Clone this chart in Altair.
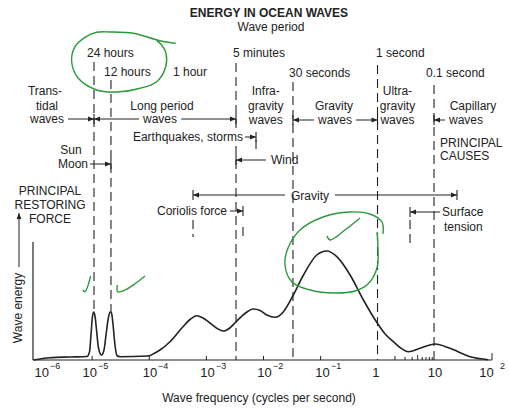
import altair as alt
import pandas as pd

INK = "#222222"
GREEN = "#2a9a3c"
FONT = "Liberation Sans"

# ---------------- data: wave-energy spectrum (log10 of frequency in Hz, relative energy) -------------
curve_lf = [-6.03, -5.74, -5.39, -5.09, -5.046, -5.02, -4.997, -4.976, -4.95, -4.923, -4.888, -4.836,
            -4.792, -4.757, -4.722, -4.687, -4.661, -4.635, -4.60, -4.565, -4.512, -4.022, -3.90, -3.812,
            -3.637, -3.41, -3.287, -3.17, -3.06, -2.937, -2.81, -2.70, -2.59, -2.48, -2.325, -2.18, -2.06,
            -1.94, -1.797, -1.65, -1.478, -1.30, -1.067, -0.892, -0.717, -0.484, -0.251, -0.006, 0.129,
            0.274, 0.39, 0.535, 0.74, 1.002, 1.265, 1.615, 1.935]
curve_e = [0, 2.3, 3, 3.5, 8, 25, 42, 48, 44, 30, 12, 5,
           10, 25, 40, 48, 47, 36, 15, 4.5, 3.3, 4, 7, 10,
           18.3, 33.3, 40.5, 44.3, 42, 37, 31.5, 29, 32, 38.3, 46.5, 51, 49.5,
           45, 42.7, 48.3, 65, 85, 105, 109, 103.3, 85, 60, 36.7, 26,
           18.3, 12.5, 8.3, 11.7, 16, 11.7, 3.3, 0.3]
assert len(curve_lf) == len(curve_e)

# ---------------- axis tick labels ----------------
tick_label_lf = [-5.883, -5.042, -3.987, -2.980, -1.982, -0.967, -0.031, 1.002, 1.904]
tick_label_txt = ["10", "10", "10", "10", "10", "10", "1", "10", "10"]
exp_lf = [-5.737, -4.897, -3.847, -2.832, -1.834, -0.818, 2.141]
exp_txt = ["\u22126", "\u22125", "\u22124", "\u22123", "\u22122", "\u22121", "2"]
major_ticks = [-5, -4, -3, -2, -1]
minor_ticks = [0.301, 0.477, 0.602, 0.699, 0.778, 0.845, 0.903, 0.954]

# ---------------- annotation texts (text, log10 f, level) ----------------
title_rows = [("ENERGY IN OCEAN WAVES", -1.904, 347)]
center_rows = [
    ("Wave period", -1.869, 333),
    ("Trans-", -5.825, 269), ("tidal", -5.790, 254), ("waves", -5.790, 241),
    ("Long period", -3.777, 254), ("waves", -3.812, 241),
    ("Infra-", -1.960, 269), ("gravity", -1.960, 254), ("waves", -1.960, 240),
    ("Gravity", -0.766, 254), ("waves", -0.748, 240),
    ("Ultra-", 0.345, 269), ("gravity", 0.345, 254), ("waves", 0.345, 240),
    ("Capillary", 1.667, 254), ("waves", 1.545, 240),
    ("Sun", -5.370, 210),
    ("Gravity", -1.186, 164),
    ("Wave frequency (cycles per second)", -2.079, -38),
]
left_rows = [
    ("24 hours", -5.090, 307), ("12 hours", -4.792, 288), ("1 hour", -3.584, 288),
    ("5 minutes", -2.534, 307), ("30 seconds", -1.554, 287), ("1 second", -0.031, 307),
    ("0.1 second", 0.845, 287), ("Wind", -1.869, 200), ("Surface", 1.125, 148), ("tension", 1.160, 133),
]
right_rows = [("Earthquakes, storms", -2.359, 223), ("Moon", -5.072, 196), ("Coriolis force", -2.639, 149)]
caps_center_rows = [("PRINCIPAL", -5.737, 169), ("RESTORING", -5.737, 155), ("FORCE", -5.737, 141)]
caps_left_rows = [("PRINCIPAL", 1.090, 217), ("CAUSES", 1.090, 204)]
ylabel_rows = [("Wave energy", -6.298, 52)]

# ---------------- dashed period lines (log10 f, top level, bottom level) ----------------
dashed = [(-4.967, 298, 48), (-4.670, 280, 48), (-2.481, 297, 232), (-2.481, 214, 0),
          (-1.484, 278, 0), (-0.004, 295, 0), (0.985, 275, 0), (-2.131, 220, 210),
          (-3.234, 140, 123), (-2.359, 133, 123), (0.565, 140, 117)]

# ---------------- arrows: horizontal shafts (level, from, to) ----------------
shafts = [(241, -5.422, -4.967), (241, -4.967, -4.18), (241, -3.44, -2.481),
          (240, -1.484, -1.116), (240, -0.381, -0.004), (240, 0.985, 1.177),
          (223, -2.324, -2.131), (196, -5.037, -4.670), (200, -2.481, -1.956),
          (165, -3.234, -1.624), (165, -0.748, 1.387), (149, -2.586, -2.359), (148, 0.565, 1.090)]
v_shafts = [(-6.280, 93, 147)]
heads = [(-4.967, 241, "right"), (-4.967, 241, "left"), (-2.481, 241, "right"),
         (-1.484, 240, "left"), (-0.004, 240, "right"), (0.985, 240, "left"),
         (-2.131, 223, "right"), (-4.670, 196, "right"), (-2.481, 200, "left"),
         (-3.234, 165, "left"), (1.387, 165, "right"), (-2.359, 149, "right"),
         (0.565, 148, "left"), (-6.280, 147, "up")]
end_bars = [(-4.967, 241), (-2.481, 241), (-1.484, 240), (-0.004, 240), (0.985, 240),
            (-2.131, 223), (-4.670, 196), (-2.481, 200), (-3.234, 165), (1.387, 165),
            (-2.359, 149), (0.565, 148)]

# ---------------- handwritten green marks (group, log10 f, level) ----------------
scribbles = {
    "ring1": ([-3.537, -3.812, -4.279, -4.687, -4.920, -5.125, -5.300, -5.358, -5.242, -4.920, -4.570,
               -4.162, -3.870, -3.712, -3.707, -3.782, -3.870],
              [316.7, 319.3, 326.7, 328, 327.7, 322.7, 313.3, 298.3, 281.7, 270, 268,
               271.7, 278.3, 293.3, 306.7, 315, 319.3]),
    "ring2": ([0.092, 0.074, -0.136, -0.486, -0.958, -1.361, -1.571, -1.624, -1.501, -1.186, -0.748,
               -0.398, -0.171, -0.013, 0.004, -0.013],
              [126, 138, 146, 148, 143, 130, 112, 95, 78, 70, 67, 69, 76, 92, 112, 128]),
    "tick0": ([-0.888, -0.836, -0.573, -0.311], [124, 120, 130, 142]),
    "tick1": ([-5.165, -5.125, -5.025], [70, 68.3, 84]),
    "tick2": ([-4.559, -4.552, -4.390, -4.232, -4.074], [75, 68.3, 71, 77, 84]),
}

# ---------------- scales ----------------
xs = alt.Scale(type="log", domain=[1e-6, 1e2], nice=False, zero=False)
ys = alt.Scale(domain=[0, 360], nice=False, zero=False)
X = alt.X("f:Q", scale=xs, axis=None)
Y = alt.Y("v:Q", scale=ys, axis=None)


def frame(rows, cols):
    df = pd.DataFrame(rows, columns=cols)
    for c in list(df.columns):
        if c.startswith("lf"):
            df["f" + c[2:]] = 10.0 ** df[c]
    return df


def text_layer(rows, align="center", size=12, weight="normal", angle=0):
    df = frame(rows, ["t", "lf", "v"])
    return alt.Chart(df).mark_text(align=align, baseline="middle", fontSize=size, fontWeight=weight,
                                   angle=angle, font=FONT, color=INK).encode(x=X, y=Y, text="t:N")


layers = []

# axis lines
axis_df = frame([(-6.035, 2.0, 0, 0)], ["lf", "lf2", "v", "v2"])
layers.append(alt.Chart(axis_df).mark_rule(color=INK, strokeWidth=1.2).encode(
    x=X, x2="f2:Q", y=Y))
yaxis_df = frame([(-6.035, 0, 118)], ["lf", "v", "v2"])
layers.append(alt.Chart(yaxis_df).mark_rule(color=INK, strokeWidth=1.2).encode(
    x=X, y=Y, y2="v2:Q"))

# tick marks
tick_rows = [(t, 0, 4) for t in major_ticks] + [(2.0, 0, 7)] + \
            [(t, 0, h) for t, h in zip(minor_ticks, [4, 3, 3, 5, 3, 3, 3, 3])]
layers.append(alt.Chart(frame(tick_rows, ["lf", "v", "v2"])).mark_rule(color=INK, strokeWidth=1).encode(
    x=X, y=Y, y2="v2:Q"))

# dashed period lines
layers.append(alt.Chart(frame(dashed, ["lf", "v", "v2"])).mark_rule(
    color=INK, strokeWidth=1.1, strokeDash=[9, 5]).encode(x=X, y=Y, y2="v2:Q"))

# arrow shafts
sh_df = frame([(lv, a, b) for lv, a, b in shafts], ["v", "lf", "lf2"])
layers.append(alt.Chart(sh_df).mark_rule(color=INK, strokeWidth=1).encode(x=X, x2="f2:Q", y=Y))
vs_df = frame(v_shafts, ["lf", "v", "v2"])
layers.append(alt.Chart(vs_df).mark_rule(color=INK, strokeWidth=1).encode(x=X, y=Y, y2="v2:Q"))

# end bars
eb_df = frame([(lf, v - 5, v + 5) for lf, v in end_bars], ["lf", "v", "v2"])
layers.append(alt.Chart(eb_df).mark_rule(color=INK, strokeWidth=1.1).encode(x=X, y=Y, y2="v2:Q"))

# arrow heads
hd_df = frame(heads, ["lf", "v", "d"])
layers.append(alt.Chart(hd_df).mark_point(filled=True, size=36, opacity=1, color=INK, strokeWidth=0).encode(
    x=X, y=Y,
    shape=alt.Shape("d:N", legend=None, scale=alt.Scale(
        domain=["right", "left", "up"],
        range=["M0,0L-2,-0.8L-2,0.8Z", "M0,0L2,-0.8L2,0.8Z", "M0,0L-0.8,2L0.8,2Z"]))))

# energy curve
cv_df = frame(list(zip(curve_lf, curve_e)), ["lf", "v"])
layers.append(alt.Chart(cv_df).mark_line(color=INK, strokeWidth=1.6, interpolate="monotone").encode(x=X, y=Y))

# texts
layers.append(text_layer(title_rows, size=12, weight="bold"))
layers.append(text_layer(center_rows))
layers.append(text_layer(left_rows, align="left"))
layers.append(text_layer(right_rows, align="right"))
layers.append(text_layer(caps_center_rows, size=12))
layers.append(text_layer(caps_left_rows, align="left", size=12))
layers.append(text_layer(ylabel_rows, angle=270))

# tick labels
tl_df = frame(list(zip(tick_label_txt, tick_label_lf, [-13] * len(tick_label_lf))), ["t", "lf", "v"])
layers.append(alt.Chart(tl_df).mark_text(align="center", baseline="middle", fontSize=13, font=FONT,
                                         color=INK).encode(x=X, y=Y, text="t:N"))
ex_df = frame(list(zip(exp_txt, exp_lf, [-6] * len(exp_lf))), ["t", "lf", "v"])
layers.append(alt.Chart(ex_df).mark_text(align="left", baseline="middle", fontSize=9, font=FONT,
                                         color=INK).encode(x=X, y=Y, text="t:N"))

# green handwriting
sc_rows = []
for g, (lfs, vs) in scribbles.items():
    for i, (a, b) in enumerate(zip(lfs, vs)):
        sc_rows.append((g, i, a, b))
sc_df = frame(sc_rows, ["g", "i", "lf", "v"])
layers.append(alt.Chart(sc_df).mark_line(color=GREEN, strokeWidth=1.4, interpolate="catmull-rom").encode(
    x=X, y=Y, detail="g:N", order="i:Q"))

chart = alt.layer(*layers).properties(
    width=457, height=360,
    padding={"left": 35, "top": 0, "right": 17, "bottom": 48},
    autosize=alt.AutoSizeParams(type="none"),
    background="white",
).configure_view(stroke=None)

chart.save("out.html", embed_options={"renderer": "svg", "actions": False})
